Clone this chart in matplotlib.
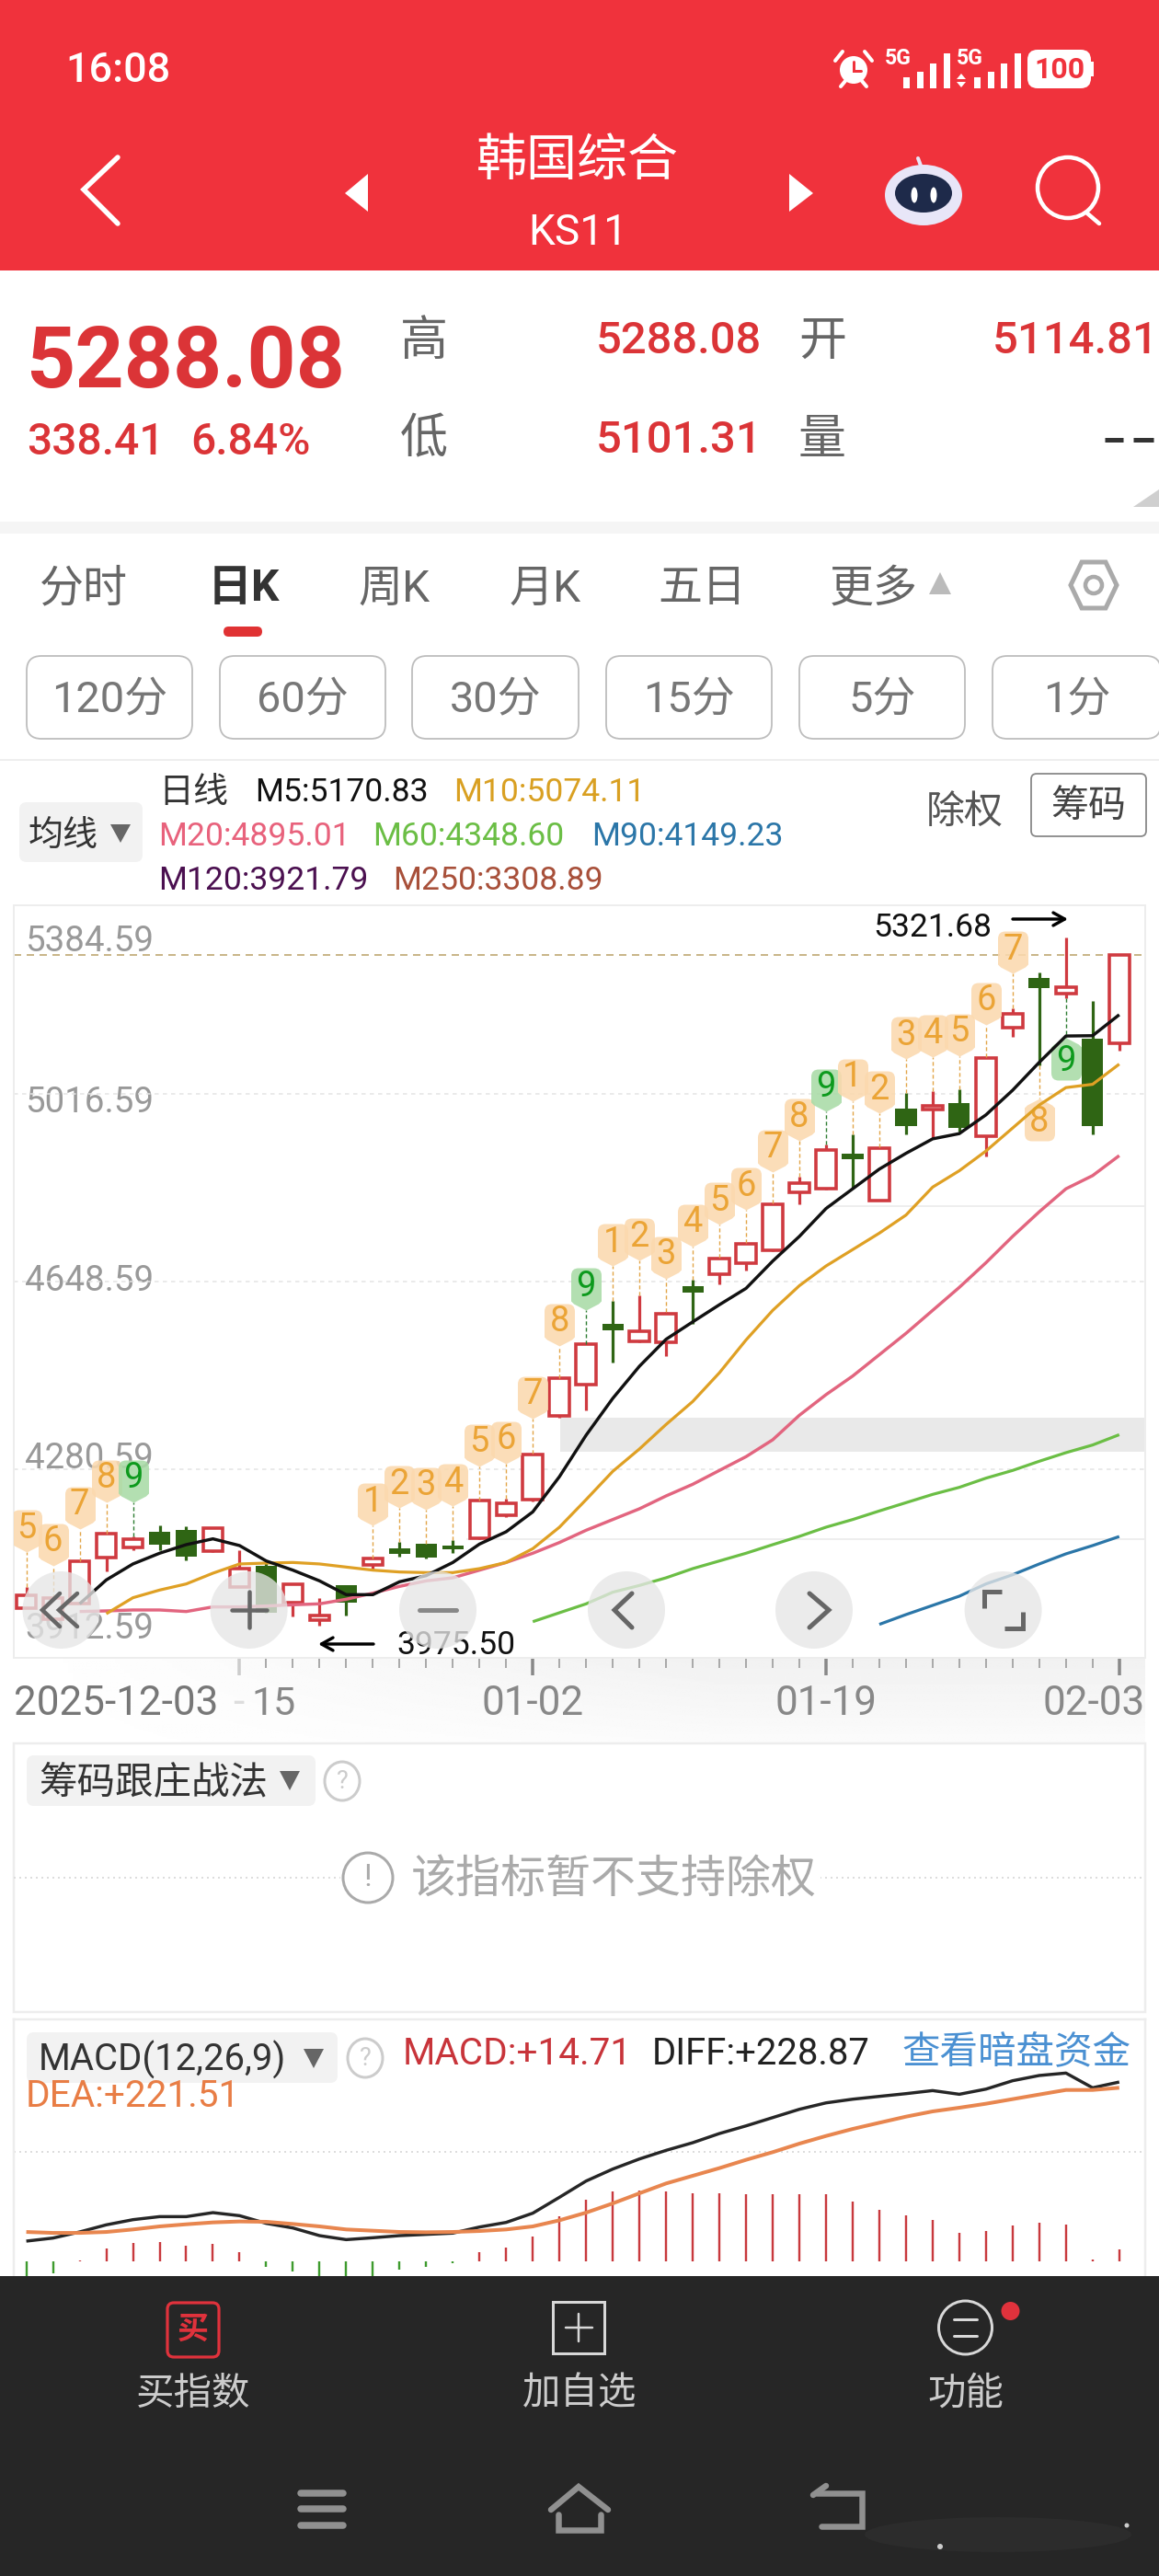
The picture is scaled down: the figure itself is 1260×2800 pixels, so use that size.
import matplotlib
matplotlib.use("Agg")
import matplotlib.pyplot as plt
import numpy as np
from matplotlib.path import Path
from matplotlib.patches import Circle, Ellipse, FancyBboxPatch, Polygon, Rectangle

plt.rcParams['font.family'] = ['Roboto', 'Noto Sans CJK SC', 'DejaVu Sans']

# daily candles, 2025-12-03 .. 2026-02-03
opens = [4008.4, 3987.4, 4017.4, 4107.4, 4127.3, 4158.5, 4161.5, 4121.3, 4050.4, 4092.4, 4020.4, 3985.5, 4053.4, 4093.6,
         4126.7, 4134.4, 4131.5, 4145.3, 4191.5, 4221.5, 4384.8, 4446.0, 4565.0, 4530.9, 4529.6, 4639.0, 4662.8, 4685.3,
         4709.7, 4822.3, 4830.0, 4899.5, 4807.5, 4986.4, 4984.4, 4997.3, 4933.0, 5145.2, 5243.0, 5211.5, 5124.0, 5114.81]
closes = [4034.2, 4029.4, 4100.2, 4154.3, 4143.5, 4133.3, 4110.4, 4166.3, 4086.4, 3999.4, 4055.2, 3994.6, 4020.4, 4106.2,
          4115.3, 4108.6, 4124.3, 4220.3, 4213.7, 4309.8, 4458.7, 4526.4, 4552.1, 4551.5, 4585.6, 4626.1, 4693.7, 4722.0,
          4799.2, 4841.6, 4905.3, 4887.9, 4910.4, 4953.5, 4992.1, 4949.0, 5086.7, 5172.9, 5223.7, 5225.0, 4952.3, 5288.08]
highs = [4050.4, 4029.4, 4100.2, 4154.3, 4149.5, 4170.5, 4168.7, 4167.5, 4122.4, 4101.4, 4058.2, 4029.4, 4053.4, 4106.2,
         4138.7, 4134.4, 4141.7, 4220.3, 4223.3, 4311.6, 4458.7, 4526.4, 4610.0, 4621.0, 4588.8, 4651.2, 4695.0, 4723.9,
         4801.1, 4854.5, 4916.9, 4936.2, 4911.7, 5018.5, 5021.1, 5025.0, 5087.3, 5183.8, 5253.3, 5321.68, 5198.0, 5288.08]
lows = [4008.4, 3987.4, 4017.4, 4080.4, 4122.4, 4122.4, 4103.2, 4119.4, 4050.4, 3999.4, 3993.4, 3975.5, 3994.6, 4083.4,
        4109.2, 4105.6, 4116.5, 4143.5, 4186.7, 4217.3, 4382.4, 4395.6, 4489.1, 4529.6, 4502.0, 4566.3, 4642.2, 4670.5,
        4707.8, 4799.2, 4828.8, 4830.0, 4806.2, 4936.2, 4929.7, 4942.6, 4893.0, 5127.9, 5071.3, 5203.1, 4936.2, 5101.31]

# moving averages, each with the index it starts at
m5_start = 2
m5 = [4017.4, 4064.2, 4095.5, 4116.5, 4133.3, 4144.7, 4131.5, 4101.4, 4083.4, 4062.4, 4035.4, 4035.4, 4060.6, 4072.6,
      4098.4, 4134.4, 4158.5, 4197.5, 4266.5, 4347.6, 4419.7, 4482.6, 4535.4, 4569.5, 4603.0, 4635.1, 4688.5, 4736.8,
      4791.4, 4830.0, 4868.6, 4899.5, 4927.8, 4938.1, 4974.8, 5023.0, 5077.7, 5129.2, 5129.8, 5170.83]
m10_start = 3
m10 = [3998.0, 4029.4, 4044.4, 4056.4, 4077.4, 4095.5, 4097.2, 4098.4, 4095.5, 4089.4, 4083.4, 4079.8, 4078.6, 4078.6,
       4086.4, 4098.4, 4125.4, 4167.5, 4221.5, 4276.8, 4320.6, 4368.6, 4413.6, 4469.8, 4534.1, 4592.0, 4640.3, 4678.9,
       4711.0, 4743.2, 4778.6, 4833.3, 4865.4, 4904.0, 4949.0, 4994.1, 5028.2, 5034.6, 5074.11]
m20_start = 2
m20 = [4002.4, 4003.6, 4005.4, 4005.4, 4002.4, 4011.4, 4011.4, 4013.2, 4015.6, 4017.4, 4026.4, 4038.4, 4051.6, 4062.4,
       4068.4, 4083.4, 4098.4, 4116.5, 4137.5, 4161.5, 4182.5, 4203.5, 4228.7, 4251.5, 4278.6, 4305.6, 4338.6, 4386.6,
       4427.0, 4463.4, 4505.2, 4547.0, 4592.0, 4637.0, 4685.3, 4736.8, 4785.0, 4830.0, 4855.8, 4895.01]
m60_start = 19
m60 = [3982.5, 4000.0, 4017.4, 4040.2, 4053.4, 4068.4, 4086.4, 4101.4, 4116.5, 4133.3, 4149.5, 4167.5, 4182.5, 4199.3,
       4215.5, 4231.7, 4245.5, 4263.5, 4278.6, 4296.6, 4313.4, 4328.4, 4348.60]
m90_start = 32
m90 = [3977.2, 3996.4, 4014.4, 4032.4, 4056.4, 4074.4, 4095.5, 4115.3, 4131.5, 4149.23]

# sequence counters above and below the candles
td_index = [0, 1, 2, 3, 4, 13, 14, 15, 16, 17, 18, 19, 20, 21, 22, 23, 24, 25, 26, 27, 28, 29, 30, 31, 32, 33, 34, 35,
            36, 37, 38, 39]
td_digit = [5, 6, 7, 8, 9, 1, 2, 3, 4, 5, 6, 7, 8, 9, 1, 2, 3, 4, 5, 6, 7, 8, 9, 1, 2, 3, 4, 5, 6, 7, 8, 9]
td_tip = [4118.3, 4092.4, 4164.5, 4216.7, 4216.7, 4170.5, 4204.7, 4202.3, 4208.3, 4286.4, 4292.4, 4380.6, 4522.5,
          4592.0, 4678.9, 4689.8, 4654.4, 4717.4, 4759.3, 4788.2, 4863.5, 4923.3, 4982.5, 5001.8, 4978.0, 5084.1,
          5087.3, 5090.6, 5151.7, 5251.4, 5006.9, 5126.0]
td_below = [38, 39]

price_ticks = [5384.59, 5016.59, 4648.59, 4280.59, 3912.59]
price_labels = ['5384.59', '5016.59', '4648.59', '4280.59', '3912.59']
price_label_y = [1021, 1196, 1390, 1583, 1768]
last_close = 5288.08
chip_band = [4315.2, 4381.8]
ghost_lines = [4144.6, 4796.6]
tick_start = 8
major_ticks = [8, 19, 30, 41]

macd = [-22, -15.3, 1.2, 15.7, 22.7, 23.9, 19.6, 22.3, 11.8, -7.4, -12.9, -20, -24, -19, -10.6, -7.4, -2.7, 11, 17.6,
        31.8, 57.2, 78.4, 89, 89.8, 89, 86.6, 87, 85, 85.8, 85, 85.5, 75.7, 65.9, 58, 52.1, 36.5, 38.4, 45.1, 49.4,
        46.3, 2.4, 14.71]
diff = [25.5, 29.4, 37.2, 46.3, 52.9, 56.8, 56.8, 61.9, 58, 48.2, 42.3, 32.5, 27.4, 29.8, 32.5, 34.1, 35.7, 43.5, 49.4,
        61.2, 81.5, 102.3, 117.6, 130.5, 141.5, 151.3, 163, 172.8, 183.4, 194, 202.2, 206.9, 210.5, 214, 217.9, 213.2,
        219.8, 230.5, 237.2, 240.3, 221.5, 228.87]
dea = [37.2, 36, 36, 37.2, 40.4, 44.3, 47, 49.4, 50.6, 50.2, 47.4, 44.3, 40.4, 38.8, 37.2, 36.8, 37.2, 38.4, 40.4, 44.3,
       52.1, 61.9, 73.7, 86.6, 99.2, 109, 118.8, 129.4, 139.2, 150.1, 159.9, 168.9, 176.8, 184.6, 191.3, 196, 201.1,
       207, 212.9, 218.7, 218.7, 221.51]

RED = '#CF3A40'
GREEN = '#2F6514'
TEXT_RED = '#DB3437'
W, H = 1260, 2800


def fs(px):
    # font / line size given in image pixels
    return px * 0.72


def bubble_path(sign):
    # tip at the origin so the marker sits on the tip's price
    w, top, base, r = 16.5, 46.0, 7.0, 8.0
    verts = [(0, 0), (-w + 3, base), (-w, base + 3), (-w, top - r), (-w, top), (-w + r, top), (w - r, top), (w, top),
             (w, top - r), (w, base + 3), (w - 3, base), (0, 0), (0, 0)]
    codes = [Path.MOVETO, Path.LINETO, Path.LINETO, Path.LINETO, Path.CURVE3, Path.CURVE3, Path.LINETO, Path.CURVE3,
             Path.CURVE3, Path.LINETO, Path.LINETO, Path.LINETO, Path.CLOSEPOLY]
    return Path([(x, sign * y) for x, y in verts], codes)


def tx(a, x, y, s, size, color='#333333', ha='left', va='center', **kw):
    # va center sits a little high for these fonts
    return a.text(x, y + size * 0.07, s, fontsize=fs(size), color=color, ha=ha, va=va, **kw)


def line(a, pts, color, lw, **kw):
    xs, ys = zip(*pts)
    a.plot(xs, ys, color=color, lw=fs(lw), solid_capstyle=kw.pop('cap', 'round'), solid_joinstyle='miter', **kw)


def box(a, x0, y0, x1, y1, r, **kw):
    a.add_patch(FancyBboxPatch((x0 + r, y0 + r), x1 - x0 - 2 * r, y1 - y0 - 2 * r,
                               boxstyle='round,pad=%g,rounding_size=%g' % (r, r), **kw))


fig = plt.figure(figsize=(W / 100, H / 100), dpi=100, facecolor='white')

ui = fig.add_axes([0, 0, 1, 1], zorder=0)
ui.set_xlim(0, W)
ui.set_ylim(H, 0)
ui.axis('off')

ov = fig.add_axes([0, 0, 1, 1], zorder=5)
ov.set_xlim(0, W)
ov.set_ylim(H, 0)
ov.axis('off')
ov.patch.set_alpha(0)

# ---- header
ui.add_patch(Rectangle((0, 0), W, 294, color='#F0323C', lw=0))
tx(ui, 71, 74, '16:08', 45, 'white', weight='medium')
ui.add_patch(Circle((928, 76), 15, fc='white', ec='none'))
line(ui, [(928, 67), (928, 77), (936, 77)], '#F0323C', 3)
line(ui, [(908, 66), (916, 56)], 'white', 4)
line(ui, [(948, 66), (940, 56)], 'white', 4)
line(ui, [(914, 94), (919, 88)], 'white', 4)
line(ui, [(942, 94), (937, 88)], 'white', 4)
for x0, arrows in [(982, False), (1059, True)]:
    tx(ui, x0 - 20 if not arrows else x0 - 19, 62, '5G', 23, 'white', weight='bold')
    for i, h in enumerate([12, 18, 27, 38]):
        ui.add_patch(Rectangle((x0 + i * 14.5, 96 - h), 7, h, color='white', lw=0))
ui.add_patch(Polygon([(1040, 86), (1050, 86), (1045, 80)], color='white', lw=0))
ui.add_patch(Polygon([(1040, 89), (1050, 89), (1045, 95)], color='white', lw=0))
box(ui, 1117, 54, 1186, 96, 11, fc='white', ec='none')
ui.add_patch(Rectangle((1186, 67), 3, 16, color='white', lw=0))
tx(ui, 1152, 74, '100', 32, '#F0323C', ha='center', weight='bold')

tx(ui, 628, 172, '韩国综合', 55, 'white', ha='center', weight='medium')
tx(ui, 628, 250, 'KS11', 46, 'white', ha='center')
line(ui, [(128, 171), (91, 206), (128, 243)], 'white', 5.5)
ui.add_patch(Polygon([(400, 189), (375, 210), (400, 230)], color='white', lw=0))
ui.add_patch(Polygon([(858, 189), (884, 210), (858, 230)], color='white', lw=0))

ui.add_patch(Ellipse((1004, 212), 84, 66, fc='#E8E6F8', ec='none'))
ui.add_patch(Ellipse((1004, 210), 62, 42, fc='#1E2A4A', ec='none'))
ui.add_patch(Ellipse((994, 212), 7, 17, fc='white', ec='none'))
ui.add_patch(Ellipse((1015, 212), 7, 17, fc='white', ec='none'))
line(ui, [(998, 172), (1001, 180)], '#E8E6F8', 4)
ui.add_patch(Ellipse((1161, 204), 66, 66, fc='none', ec='white', lw=fs(4.5)))
line(ui, [(1181, 231), (1195, 243)], 'white', 4.5)

# ---- quote block
tx(ui, 28, 389, '5288.08', 93, TEXT_RED, weight='bold')
tx(ui, 29, 478, '338.41', 48, TEXT_RED, weight='medium')
tx(ui, 207, 478, '6.84%', 48, TEXT_RED, weight='medium')
for x, y, s in [(461, 368, '高'), (461, 475, '低'), (894, 368, '开'), (894, 475, '量')]:
    tx(ui, x, y, s, 52, '#666666', ha='center')
tx(ui, 648, 368, '5288.08', 49, TEXT_RED, weight='medium')
tx(ui, 648, 476, '5101.31', 49, TEXT_RED, weight='medium')
tx(ui, 1259, 368, '5114.81', 49, TEXT_RED, ha='right', weight='medium')
line(ui, [(1201, 478), (1221, 478)], '#333333', 5, cap='butt')
line(ui, [(1232, 478), (1254, 478)], '#333333', 5, cap='butt')
ui.add_patch(Polygon([(1232, 551), (1260, 532), (1260, 551)], color='#CFCFCF', lw=0))
ui.add_patch(Rectangle((0, 567), W, 13, color='#F5F5F5', lw=0))

# ---- period tabs
for x, s in [(91, '分时'), (428, '周K'), (593, '月K'), (763, '五日'), (950, '更多')]:
    tx(ui, x, 637, s, 48, '#666666', ha='center')
tx(ui, 265, 637, '日K', 48, '#333333', ha='center', weight='bold')
box(ui, 243, 681, 285, 692, 5.5, fc='#E03233', ec='none')
ui.add_patch(Polygon([(1010, 646), (1034, 646), (1022, 622)], color='#BBBBBB', lw=0))
ui.add_patch(Polygon([(1176, 611), (1202, 611), (1214, 636), (1202, 661), (1176, 661), (1164, 636)],
                     fc='none', ec='#AAAAAA', lw=fs(5)))
ui.add_patch(Circle((1189, 636), 9, fc='none', ec='#AAAAAA', lw=fs(4.5)))

for (x0, x1), s in zip([(29, 209), (239, 419), (448, 629), (659, 839), (869, 1049), (1079, 1262)],
                       ['120分', '60分', '30分', '15分', '5分', '1分']):
    box(ui, x0, 713, x1, 803, 16, fc='white', ec='#BDBDBD', lw=fs(1.8))
    tx(ui, (x0 + x1) / 2, 758, s, 47, '#777777', ha='center')
ui.plot([0, W], [826, 826], color='#EEEEEE', lw=fs(2))

# ---- MA legend
box(ui, 21, 872, 155, 937, 8, fc='#F2F2F2', ec='none')
tx(ui, 69, 906, '均线', 38, '#333333', ha='center')
ui.add_patch(Polygon([(120, 896), (142, 896), (131, 916)], color='#666666', lw=0))
tx(ui, 172, 859, '日线', 38, '#333333')
for x, y, s, c in [(277, 859, 'M5:5170.83', '#111111'), (493, 859, 'M10:5074.11', '#D9A022'),
                   (172, 907, 'M20:4895.01', '#E8627C'), (405, 907, 'M60:4348.60', '#6BBE45'),
                   (643, 907, 'M90:4149.23', '#2B76A8'), (172, 955, 'M120:3921.79', '#4B1050'),
                   (427, 955, 'M250:3308.89', '#A8503A')]:
    tx(ui, x, y, s, 35.5, c)
tx(ui, 1049, 881, '除权', 42, '#555555', ha='center')
box(ui, 1121, 841, 1246, 909, 6, fc='white', ec='#888888', lw=fs(1.8))
tx(ui, 1183, 874, '筹码', 41, '#444444', ha='center')

# ---- price panel: x index 0 sits at 28.6 px, one candle is 28.98 px
ax = fig.add_axes([15 / W, 1 - 1801.5 / H, 1230 / W, 817.2 / H], zorder=2)
ax.patch.set_alpha(0)
ax.set_xlim((15 - 28.6) / 28.98, (1245 - 28.6) / 28.98)
ax.set_ylim(price_ticks[-1], price_ticks[0])
for s in ax.spines.values():
    s.set_color('#EDEDED')
    s.set_linewidth(fs(2))
ax.set_yticks(price_ticks[1:4])
ax.set_yticklabels([])
ax.tick_params(axis='y', length=0)
ax.grid(axis='y', color='#E4E4E4', linewidth=fs(1.5), linestyle=(0, (3, 3)))
ax.set_xticks([])
ax.set_axisbelow(True)

idx = np.arange(len(closes))
# date ruler below the frame, only drawn from tick_start on
minor = [i for i in idx if i >= tick_start and i not in major_ticks]
ax.vlines(minor, -0.0135, 0, transform=ax.get_xaxis_transform(), clip_on=False, color='#AAAAAA', lw=fs(2))
ax.vlines(major_ticks[0], -0.0233, 0, transform=ax.get_xaxis_transform(), clip_on=False, color='#CCCCCC', lw=fs(3.5))
ax.vlines(major_ticks[1:], -0.0233, 0, transform=ax.get_xaxis_transform(), clip_on=False, color='#888888', lw=fs(3.5))

ax.axhspan(chip_band[0], chip_band[1], xmin=(609 - 15) / 1230, xmax=1, color='#E9E9E9', lw=0, zorder=0.5)
ax.hlines(ghost_lines[0], 16.5, 42, color='#EEEEEE', lw=fs(2), zorder=0.6)
ax.hlines(ghost_lines[1], 30, 42, color='#EEEEEE', lw=fs(2), zorder=0.6)
ax.axhline(last_close, color='#C9B68A', lw=fs(2), linestyle=(0, (4, 3)), zorder=0.7)

opens_a, closes_a = np.array(opens), np.array(closes)
lows_a, highs_a = np.array(lows), np.array(highs)
up = closes_a >= opens_a
ax.vlines(idx[up], lows_a[up], highs_a[up], color=RED, lw=fs(3.2), zorder=2)
ax.vlines(idx[~up], lows_a[~up], highs_a[~up], color=GREEN, lw=fs(3.2), zorder=2)
ax.bar(idx[up], (closes_a - opens_a)[up], bottom=opens_a[up], width=0.74, facecolor='white', edgecolor=RED,
       linewidth=fs(3.6), zorder=3)
ax.bar(idx[~up], (opens_a - closes_a)[~up], bottom=closes_a[~up], width=0.80, color=GREEN, lw=0, zorder=3)

# counters: dashed stem from the candle to the bubble
for i, d, tip in zip(td_index, td_digit, td_tip):
    is_nine = d == 9
    below = i in td_below
    stem_from = lows[i] if below else highs[i]
    stem_col = '#2E7D32' if is_nine else '#E2A548'
    ax.plot([i, i], [stem_from, tip], color=stem_col, lw=fs(1.4), linestyle=(0, (3, 2)), zorder=4)
    ax.plot([i], [tip], marker=bubble_path(-1 if below else 1), markersize=fs(92), markeredgewidth=0, linestyle='',
            markerfacecolor='#A9DBA6' if is_nine else '#FBD9AE', alpha=0.88, zorder=4.5)
    ax.annotate(str(d), xy=(i, tip), xytext=(0, fs(-26 if below else 26)), textcoords='offset points', ha='center',
                va='center', fontsize=fs(38), color='#0D9A1D' if is_nine else '#EBA436', zorder=5)

for start, vals, col, w in [(m90_start, m90, '#2B76A8', 3.2), (m60_start, m60, '#6BBE45', 3.2),
                            (m20_start, m20, '#E2657F', 3.4), (m10_start, m10, '#DFA024', 3.2),
                            (m5_start, m5, '#111111', 3.4)]:
    ax.plot(np.arange(start, start + len(vals)), vals, color=col, lw=fs(w), zorder=6, solid_capstyle='butt')

for lab, y in zip(price_labels, price_label_y):
    tx(ui, 27, y, lab, 38.5, '#999999')

tx(ui, 949, 1006, '5321.68', 35.5, '#111111')
arrow_style = dict(arrowstyle='->,head_length=0.9,head_width=0.5', color='black', lw=fs(3.4), shrinkA=0, shrinkB=0)
ui.annotate('', xy=(1161, 999), xytext=(1101, 999), arrowprops=arrow_style)
tx(ui, 431, 1786, '3975.50', 35.5, '#111111')
ui.annotate('', xy=(346, 1787), xytext=(406, 1787), arrowprops=arrow_style)

# ---- date strip, grey shade fading out to the left and downwards
shade_v = np.linspace(0.945, 0.985, 60).reshape(-1, 1)
shade_h = np.clip(np.linspace(0, 1.6, 240), 0, 1).reshape(1, -1)
shade = 1 - (1 - shade_v) * shade_h
ui.imshow(shade, extent=(15, 1245, 1895, 1803), cmap='gray', vmin=0, vmax=1, aspect='auto', zorder=0)
ui.set_xlim(0, W)
ui.set_ylim(H, 0)
tx(ui, 15, 1849, '2025-12-03', 44, '#777777', zorder=2)
tx(ui, 253, 1849, '-', 44, '#DDDDDD', zorder=2)
tx(ui, 273, 1849, '15', 43, '#888888', zorder=2)
tx(ui, 579, 1849, '01-02', 44, '#888888', ha='center', zorder=2)
tx(ui, 898, 1849, '01-19', 44, '#888888', ha='center', zorder=2)
tx(ui, 1245, 1849, '02-03', 44, '#888888', ha='right', zorder=2)

# ---- middle indicator panel
ui.add_patch(Rectangle((15, 1895), 1230, 292, fc='white', ec='#EDEDED', lw=fs(2.5)))
box(ui, 29, 1908, 343, 1963, 8, fc='#F2F2F2', ec='none')
tx(ui, 42, 1935, '筹码跟庄战法', 41.5, '#333333')
ui.add_patch(Polygon([(304, 1925), (326, 1925), (315, 1946)], color='#666666', lw=0))
ui.add_patch(Ellipse((372, 1936), 38, 42, fc='white', ec='#CCCCCC', lw=fs(3)))
tx(ui, 372, 1935, '?', 27, '#CCCCCC', ha='center')
ui.plot([15, 1245], [2041, 2041], color='#DDDDDD', lw=fs(2), linestyle=(0, (1, 2)))
ui.add_patch(Rectangle((370, 2005), 522, 75, color='white', lw=0, zorder=2))
ui.add_patch(Ellipse((400, 2041), 54, 54, fc='white', ec='#AAAAAA', lw=fs(3), zorder=3))
tx(ui, 400, 2039, '!', 34, '#AAAAAA', ha='center', zorder=3)
tx(ui, 447, 2040, '该指标暂不支持除权', 49, '#AAAAAA', zorder=3)

# ---- MACD panel
ax2 = fig.add_axes([15 / W, 1 - 2474 / H, 1230 / W, 279 / H], zorder=2)
ax2.patch.set_alpha(0)
ax2.set_xlim(ax.get_xlim())
ax2.set_ylim(-19.2, 308.9)
for s in ax2.spines.values():
    s.set_color('#EDEDED')
    s.set_linewidth(fs(2.5))
ax2.spines['bottom'].set_visible(False)
ax2.set_xticks([])
ax2.set_yticks([139.6])
ax2.set_yticklabels([])
ax2.tick_params(axis='y', length=0)
ax2.grid(axis='y', color='#DDDDDD', linewidth=fs(2), linestyle=(0, (1, 2)))
macd_a = np.array(macd)
ax2.vlines(idx[macd_a >= 0], 0, macd_a[macd_a >= 0], color='#C8393D', lw=fs(2.4))
ax2.vlines(idx[macd_a < 0], 0, macd_a[macd_a < 0], color='#3E9B2E', lw=fs(2.4))
ax2.plot(idx, diff, color='#262626', lw=fs(3.4), solid_capstyle='butt')
ax2.plot(idx, dea, color='#E8864F', lw=fs(4), solid_capstyle='butt')

box(ov, 29, 2209, 367, 2264, 8, fc='#F2F2F2', ec='none', zorder=1)
tx(ov, 42, 2236, 'MACD(12,26,9)', 40, '#333333', zorder=2)
ov.add_patch(Polygon([(330, 2227), (352, 2227), (341, 2248)], color='#666666', lw=0))
ov.add_patch(Ellipse((397, 2237), 38, 42, fc='white', ec='#CCCCCC', lw=fs(3)))
tx(ov, 397, 2236, '?', 27, '#CCCCCC', ha='center')
tx(ov, 438, 2230, 'MACD:+14.71', 40.5, '#C8343A')
tx(ov, 709, 2230, 'DIFF:+228.87', 40, '#222222')
tx(ov, 980, 2228, '查看暗盘资金', 41.5, '#4A90D2')
tx(ov, 28, 2276, 'DEA:+221.51', 40.5, '#E87D45')

# ---- floating chart buttons
for x in [66.5, 270.6, 476, 681, 885, 1090.6]:
    ov.add_patch(Circle((x, 1750), 42, fc='#E6E6E6', ec='none', alpha=0.78))
GLYPH = '#666666'
line(ov, [(65, 1732), (46, 1750), (65, 1768)], GLYPH, 4.5)
line(ov, [(84, 1732), (64, 1750), (84, 1768)], GLYPH, 4.5)
line(ov, [(252, 1750), (290, 1750)], GLYPH, 4.5)
line(ov, [(271, 1730), (271, 1769)], GLYPH, 4.5)
line(ov, [(456, 1750), (496, 1750)], '#888888', 5)
line(ov, [(687, 1732), (668, 1750), (687, 1769)], GLYPH, 5)
line(ov, [(880, 1732), (901, 1750), (880, 1769)], GLYPH, 5)
line(ov, [(1070, 1748), (1070, 1730), (1089, 1730)], GLYPH, 5, cap='butt')
line(ov, [(1092, 1770), (1112, 1770), (1112, 1752)], GLYPH, 5, cap='butt')

# ---- bottom bar
ov.add_patch(Rectangle((0, 2474), W, 326, color='#262626', lw=0, zorder=3))
box(ov, 182, 2503, 238, 2562, 7, fc='none', ec='#E0323C', lw=fs(3.2), zorder=4)
tx(ov, 210, 2530, '买', 34, '#E0323C', ha='center', zorder=4, weight='bold')
ov.add_patch(Rectangle((601, 2502), 56, 56, fc='none', ec='#D8D8D8', lw=fs(3), zorder=4))
line(ov, [(615, 2530), (644, 2530)], '#D8D8D8', 2.5, zorder=4)
line(ov, [(629, 2515), (629, 2545)], '#D8D8D8', 2.5, zorder=4)
ov.add_patch(Circle((1049.5, 2530), 29, fc='none', ec='#D8D8D8', lw=fs(3), zorder=4))
line(ov, [(1037, 2521), (1062, 2521)], '#D8D8D8', 3, zorder=4)
line(ov, [(1037, 2539), (1062, 2539)], '#D8D8D8', 3, zorder=4)
ov.add_patch(Circle((1098.5, 2512), 10, fc='#E0323C', ec='none', zorder=4))
for x, s in [(210.5, '买指数'), (630, '加自选'), (1050, '功能')]:
    tx(ov, x, 2599, s, 41.5, '#CCCCCC', ha='center', zorder=4)
for y in [2709.5, 2727, 2744.5]:
    line(ov, [(327, y), (373, y)], '#909090', 7.5, zorder=4)
line(ov, [(599, 2728), (629, 2703), (661, 2728)], '#909090', 6.5, zorder=4)
line(ov, [(607, 2733), (607, 2750), (653, 2750), (653, 2733)], '#909090', 6.5, zorder=4)
line(ov, [(888, 2710), (937, 2710), (937, 2746), (893, 2746)], '#909090', 6.5, zorder=4)
line(ov, [(898, 2702), (884, 2712)], '#909090', 6.5, zorder=4)
ov.add_patch(Ellipse((1085, 2755), 290, 38, fc='#2C2C2C', ec='none', zorder=3.5))
ov.add_patch(Circle((1022, 2768), 3, fc='#CCCCCC', ec='none', zorder=4))
ov.add_patch(Circle((1225, 2745), 2.5, fc='#CCCCCC', ec='none', zorder=4))

fig.savefig('out.png', dpi=100)
